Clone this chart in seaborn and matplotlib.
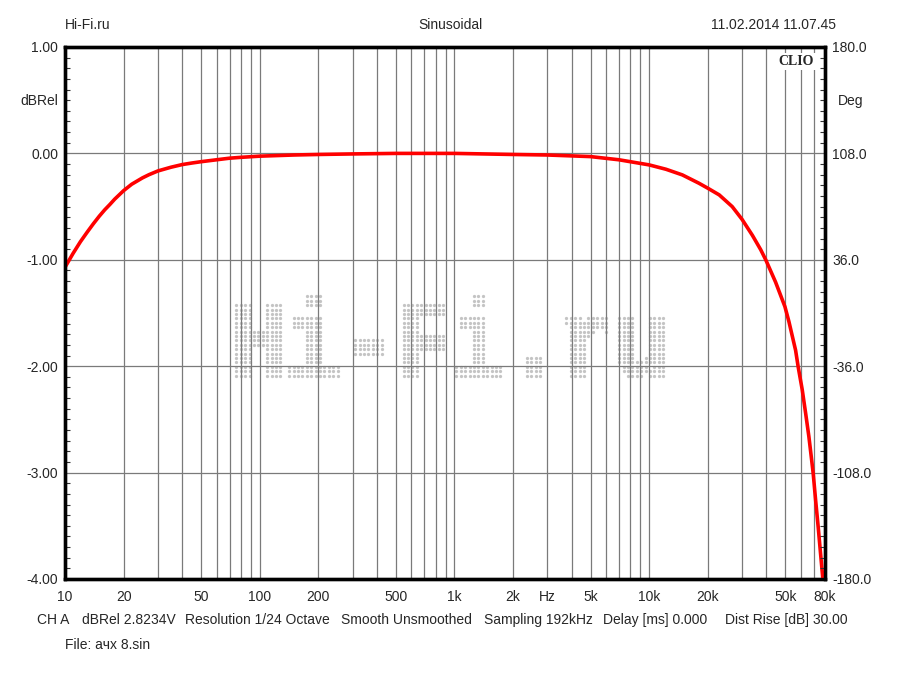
import numpy as np
import pandas as pd
import matplotlib
matplotlib.use("Agg")
import matplotlib.pyplot as plt
import seaborn as sns
from matplotlib.textpath import TextPath
from matplotlib.font_manager import FontProperties
from matplotlib.transforms import Affine2D
from matplotlib.ticker import FixedLocator, NullFormatter

# ---------------- data ----------------
freq_hz = [10, 11, 12, 13, 14, 15, 16, 17, 18, 20, 22, 25, 27, 30, 35, 40, 45, 50, 60,
           70, 80, 100, 150, 200, 300, 500, 1000, 2000, 3000, 5000, 7000, 10000, 12200,
           14800, 18000, 20000, 22900, 26700, 30000, 33900, 37400, 39700, 44600, 49800,
           52200, 56500, 58300, 61100, 63600, 66100, 68300, 69600, 71600, 73800, 75900,
           78000]
level_db = [-1.07, -0.94, -0.83, -0.74, -0.66, -0.59, -0.53, -0.48, -0.43, -0.35, -0.29,
            -0.23, -0.20, -0.165, -0.13, -0.105, -0.09, -0.078, -0.06, -0.045, -0.037,
            -0.026, -0.015, -0.01, -0.005, 0.0, 0.0, -0.01, -0.015, -0.03, -0.06, -0.108,
            -0.149, -0.202, -0.28, -0.327, -0.39, -0.50, -0.62, -0.77, -0.905, -1.0,
            -1.21, -1.44, -1.58, -1.85, -2.01, -2.22, -2.44, -2.66, -2.88, -3.01, -3.26,
            -3.51, -3.76, -4.0]

x_tick_vals = [10, 20, 50, 100, 200, 500, 1000, 2000, 3000, 5000, 10000, 20000, 50000, 80000]
x_tick_labels = ["10", "20", "50", "100", "200", "500", "1k", "2k", "Hz", "5k", "10k", "20k", "50k", "80k"]
y_left_ticks = [1, 0, -1, -2, -3, -4]
y_left_labels = ["1.00", "0.00", "-1.00", "-2.00", "-3.00", "-4.00"]
y_right_ticks = [180, 108, 36, -36, -108, -180]
y_right_labels = ["180.0", "108.0", "36.0", "-36.0", "-108.0", "-180.0"]

header_left = "Hi-Fi.ru"
header_center = "Sinusoidal"
header_right = "11.02.2014 11.07.45"
footer_items = ["CH A", "dBRel 2.8234V", "Resolution 1/24 Octave", "Smooth Unsmoothed",
                "Sampling 192kHz", "Delay [ms] 0.000", "Dist Rise [dB] 30.00"]
footer_x_px = [37, 82, 185, 341, 484, 603, 725]
file_line = "File: ачх 8.sin"
watermark = "Hi-Fi.ru"

df = pd.DataFrame({"freq": freq_hz, "level": level_db})

# ---------------- style ----------------
sns.set_style("white")
FONT = ["Liberation Sans", "DejaVu Sans"]
plt.rcParams["font.family"] = FONT
FS = 10

W, H = 900, 675
fig = plt.figure(figsize=(9, 6.75), dpi=100)
L, R, T, B = 65, 825, 47, 579
ax = fig.add_axes([L / W, 1 - B / H, (R - L) / W, (B - T) / H])

ax.set_xscale("log")
ax.set_xlim(10, 80000)
ax.set_ylim(-4, 1)

# grid lines
minor_x = [m * 10 ** e for e in range(1, 5) for m in range(1, 10) if m * 10 ** e <= 80000]
ax.xaxis.set_minor_locator(FixedLocator(minor_x))
ax.xaxis.set_minor_formatter(NullFormatter())
ax.set_xticks(x_tick_vals)
ax.set_xticklabels(x_tick_labels)
ax.grid(True, which="both", axis="x", color="#7a7a7a", lw=0.9, zorder=1)
for yv in [0, -1, -2, -3]:
    ax.axhline(yv, color="#7a7a7a", lw=0.9, zorder=1)

ax.set_yticks(y_left_ticks)
ax.set_yticklabels(y_left_labels)
ax.yaxis.set_minor_locator(FixedLocator(np.arange(-4, 1.0001, 0.1)))
ax.tick_params(axis="x", which="both", length=0, pad=8, labelsize=FS)
ax.tick_params(axis="y", which="major", length=0, pad=5, labelsize=FS)
ax.tick_params(axis="y", which="minor", direction="in", length=3.5, width=0.8, color="#333333")

for s in ax.spines.values():
    s.set_linewidth(2.4)
    s.set_color("black")

# watermark made of dots
fp = FontProperties(family=["Liberation Mono", "DejaVu Sans Mono"], weight="bold")
tp = TextPath((0, 0), watermark, size=100, prop=fp)
ext = tp.get_extents()
x0, x1 = (236 - L) / (R - L), (662 - L) / (R - L)
y1, y0 = 1 - (296 - T) / (B - T), 1 - (376 - T) / (B - T)
tr = (Affine2D().translate(-ext.x0, -ext.y0)
      .scale((x1 - x0) / ext.width, (y1 - y0) / ext.height)
      .translate(x0, y0) + ax.transAxes)
dpath = tr.transform_path(tp)
dext = dpath.get_extents()
pitch = 4.4
gx = np.arange(dext.x0 - 4, dext.x1 + 4, pitch)
gy = np.arange(dext.y0 - 4, dext.y1 + 4, pitch)
GX, GY = np.meshgrid(gx, gy)
pts = np.column_stack([GX.ravel(), GY.ravel()])
ins_a = dpath.contains_points(pts, radius=4.5)
ins_b = dpath.contains_points(pts, radius=-4.5)
ins = ins_a if ins_a.sum() >= ins_b.sum() else ins_b
apts = ax.transAxes.inverted().transform(pts[ins])
ax.scatter(apts[:, 0], apts[:, 1], transform=ax.transAxes, s=5.5, color="#c4c4c4",
           linewidths=0, zorder=0.3)

# curve
sns.lineplot(data=df, x="freq", y="level", ax=ax, color="#ff0000", lw=2.6, zorder=5,
             estimator=None, sort=True)
ax.set_xlabel("")
ax.set_ylabel("")

# right axis
ax2 = ax.twinx()
ax2.set_ylim(-180, 180)
ax2.set_yticks(y_right_ticks)
ax2.set_yticklabels(y_right_labels)
ax2.yaxis.set_minor_locator(FixedLocator(np.arange(-180, 180.001, 7.2)))
ax2.tick_params(axis="y", which="major", length=0, pad=5, labelsize=FS)
ax2.tick_params(axis="y", which="minor", direction="in", length=3.5, width=0.8, color="#333333")
for s in ax2.spines.values():
    s.set_linewidth(2.4)
    s.set_color("black")

# axis unit labels
fig.text(58 / W, 1 - 101 / H, "dBRel", ha="right", va="center", fontsize=FS)
fig.text(838 / W, 1 - 101 / H, "Deg", ha="left", va="center", fontsize=FS)

# CLIO badge
ax.text(0.985, 0.985, "CLIO", transform=ax.transAxes, ha="right", va="top",
        family=["Liberation Serif", "DejaVu Serif"], weight="bold", fontsize=10,
        bbox=dict(facecolor="white", edgecolor="none", pad=1.5), zorder=6)

# header
fig.text(65 / W, 1 - 25 / H, header_left, ha="left", va="center", fontsize=FS)
fig.text(450 / W, 1 - 25 / H, header_center, ha="center", va="center", fontsize=FS)
fig.text(836 / W, 1 - 25 / H, header_right, ha="right", va="center", fontsize=FS)

# footer
for txt, xp in zip(footer_items, footer_x_px):
    fig.text(xp / W, 1 - 620 / H, txt, ha="left", va="center", fontsize=FS)
fig.text(65 / W, 1 - 645 / H, file_line, ha="left", va="center", fontsize=FS)

fig.savefig("out.png", dpi=100, facecolor="white")
